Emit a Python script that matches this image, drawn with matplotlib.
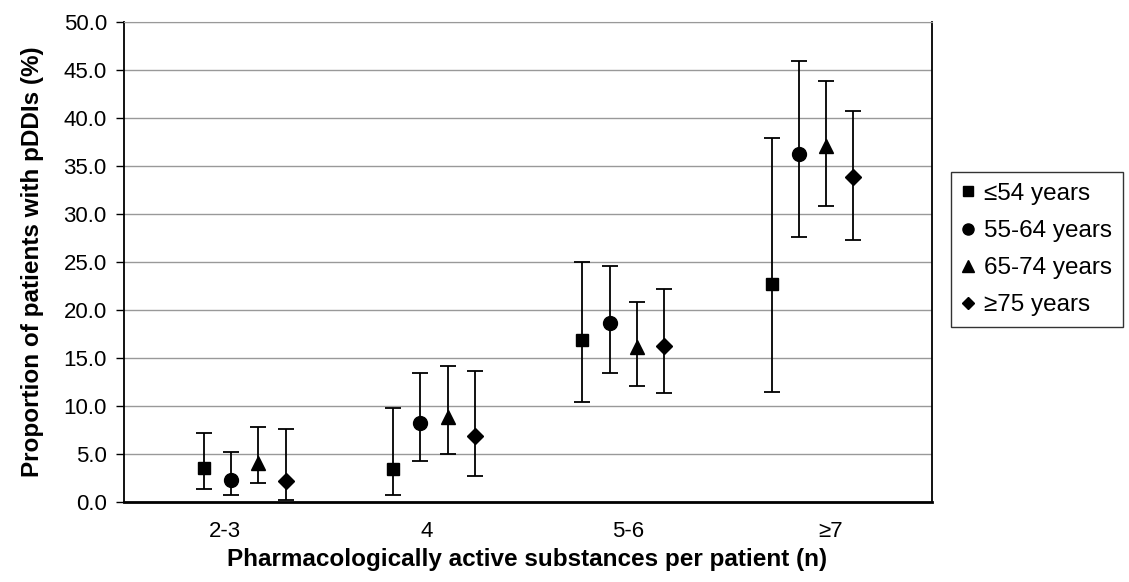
import matplotlib
matplotlib.use('Agg')
import matplotlib.pyplot as plt
import numpy as np

plt.rcParams['font.family'] = ['Liberation Sans', 'DejaVu Sans']

# Categories and age groups
categories = ['2-3', '4', '5-6', '\u22657']
groups = ['\u226454 years', '55-64 years', '65-74 years', '\u226575 years']
markers = ['s', 'o', '^', 'D']
marker_sizes = [9, 10, 10, 8]

# Proportions (%) with lower / upper confidence limits
values = [
    [3.5, 3.4, 16.9, 22.7],
    [2.3, 8.2, 18.6, 36.3],
    [4.1, 8.9, 16.1, 37.1],
    [2.2, 6.9, 16.3, 33.9],
]
lower = [
    [1.3, 0.7, 10.4, 11.5],
    [0.7, 4.3, 13.4, 27.6],
    [2.0, 5.0, 12.1, 30.8],
    [0.2, 2.7, 11.4, 27.3],
]
upper = [
    [7.2, 9.8, 25.0, 37.9],
    [5.2, 13.4, 24.6, 45.9],
    [7.8, 14.2, 20.8, 43.9],
    [7.6, 13.6, 22.2, 40.7],
]

fig = plt.figure(figsize=(11.29, 5.82), dpi=100)
ax = fig.add_axes([0.1094, 0.1375, 0.7157, 0.8247])

# horizontal placement of the series inside each category
base, step, shift = 0.40, 0.936, 0.134

for k in range(len(groups)):
    x = base + np.arange(len(categories)) * step + k * shift
    y = np.array(values[k])
    yerr = [y - np.array(lower[k]), np.array(upper[k]) - y]
    ax.errorbar(x, y, yerr=yerr, fmt=markers[k], color='black',
                markersize=marker_sizes[k], ecolor='black', elinewidth=1.3,
                capsize=6, capthick=1.3, label=groups[k], zorder=3)

ax.set_xlim(0, 4)
ax.set_ylim(0, 50)
ax.set_xticks(np.arange(len(categories)) + 0.5)
ax.set_xticklabels(categories, fontsize=16)
ax.set_yticks(np.arange(0, 50.1, 5))
ax.set_yticklabels(['%.1f' % v for v in np.arange(0, 50.1, 5)], fontsize=16)
ax.tick_params(axis='x', length=0, pad=14)
ax.tick_params(axis='y', length=6, width=1, direction='out', pad=6)

ax.yaxis.grid(True, color='#999999', linewidth=1)
ax.set_axisbelow(True)
for side in ['left', 'bottom', 'right', 'top']:
    ax.spines[side].set_color('black')
ax.spines['bottom'].set_linewidth(2)
ax.spines['left'].set_linewidth(1.3)
ax.spines['right'].set_linewidth(1.3)
ax.spines['top'].set_linewidth(0.8)
ax.spines['top'].set_color('#999999')

ax.set_xlabel('Pharmacologically active substances per patient (n)',
              fontsize=17.5, fontweight='bold', labelpad=4)
ax.set_ylabel('Proportion of patients with pDDIs (%)',
              fontsize=17.5, fontweight='bold', labelpad=14)

# legend without the error bar glyphs
handles = [plt.Line2D([], [], marker=markers[k], color='black', linestyle='None',
                      markersize=marker_sizes[k] * 0.8) for k in range(len(groups))]
leg = fig.legend(handles, groups, loc='upper left',
                 bbox_to_anchor=(951 / 1129, 1 - 172 / 582),
                 fontsize=17.5, frameon=True, fancybox=False, edgecolor='black',
                 handlelength=0.5, handletextpad=0.4, labelspacing=0.62,
                 borderpad=0.45, borderaxespad=0)
leg.get_frame().set_linewidth(1)

fig.savefig('out.png', dpi=100)
